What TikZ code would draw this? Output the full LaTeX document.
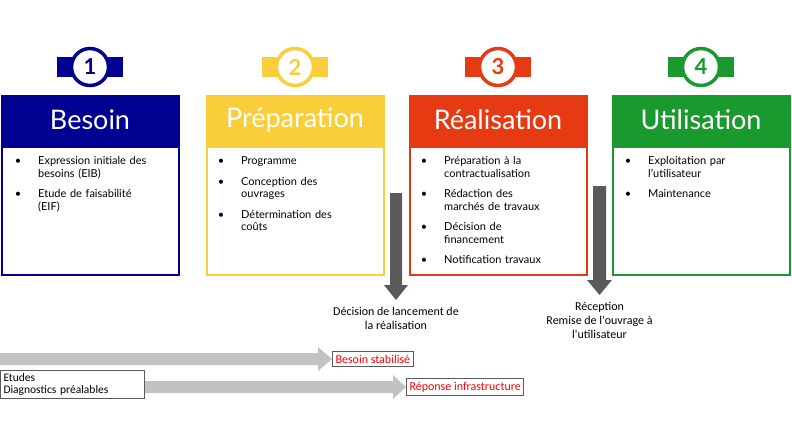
\documentclass[tikz,border=0pt]{standalone}
\usepackage{fontspec}
\setmainfont{Lato}
\newfontfamily\notefont{Carlito}
\usetikzlibrary{positioning}
\definecolor{cbleu}{HTML}{000091}
\definecolor{cjaune}{HTML}{F9CE3A}
\definecolor{crouge}{HTML}{E63B12}
\definecolor{cvert}{HTML}{1A9A2E}
\definecolor{cgris}{HTML}{5A5A5A}
\definecolor{cclair}{HTML}{C2C2C2}
\setlength{\leftmargini}{25pt}
\setlength{\labelsep}{17pt}
\tikzset{
  header/.style={fill=#1, draw=#1, line width=2pt, minimum width=177pt, minimum height=49pt, text=white, font=\fontsize{27}{27}\selectfont, inner sep=0pt},
  body/.style={draw=#1, line width=2pt, fill=white, minimum width=177pt, minimum height=128pt, anchor=north},
  ring/.style={circle, draw=#1, line width=3.5pt, fill=white, minimum size=37pt, text=#1, font=\fontsize{22}{22}\selectfont\bfseries, inner sep=0pt},
  tab/.style={fill=#1, minimum width=66pt, minimum height=20pt, inner sep=0pt},
  items/.style={text width=140pt, align=left, font=\fontsize{11}{12.5}\selectfont\setlength{\itemsep}{0pt}, anchor=north west, inner sep=0pt},
  redbox/.style={draw=cgris, line width=1pt, text=red, font=\notefont\fontsize{12}{13}\selectfont, inner sep=3pt},
  note/.style={align=center, font=\notefont\fontsize{12}{14}\selectfont, inner sep=0pt}
}
\begin{document}
\begin{tikzpicture}[x=1pt,y=-1pt]
\useasboundingbox (0,0) rectangle (792,445);
% phases
\foreach \n/\x/\c/\t in {1/90/cbleu/Besoin, 2/295/cjaune/Préparation, 3/498/crouge/Réalisation, 4/701/cvert/Utilisation}{
  \node[tab=\c] (tab\n) at (\x,67) {};
  \node[ring=\c] (ring\n) at (\x,67) {\n};
  \node[body=\c] (body\n) at (\x,146) {};
  \node[header=\c] (head\n) at (\x,120) {\t};
}
\node[items] (list1) at (13,144) {%
  \begin{itemize}
  \item Expression initiale des besoins (EIB)
  \item Etude de faisabilité\\(EIF)
  \end{itemize}};
\node[items, text width=135pt] (list2) at (216,144) {%
  \begin{itemize}
  \item Programme
  \item Conception des\\ouvrages
  \item Détermination des coûts
  \end{itemize}};
\node[items, text width=135pt] (list3) at (419,144) {%
  \begin{itemize}
  \item Préparation à la contractualisation
  \item Rédaction des\\marchés de travaux
  \item Décision de\\financement
  \item Notification travaux
  \end{itemize}};
\node[items, text width=135pt] (list4) at (623,144) {%
  \begin{itemize}
  \item Exploitation par\\l'utilisateur
  \item Maintenance
  \end{itemize}};
% jalons
\fill[cgris] (390,193) -- (402,193) -- (402,285) -- (408,285) -- (396,300) -- (384,285) -- (390,285) -- cycle;
\fill[cgris] (593,186) -- (606,186) -- (606,280) -- (612,280) -- (599.5,295) -- (587,280) -- (593,280) -- cycle;
\coordinate (tip1) at (396,300);
\coordinate (tip2) at (599.5,295);
\node[note, below=7pt of tip1] (dec) {Décision de lancement de\\la réalisation};
\node[note, below=7pt of tip2] (rec) {Réception\\Remise de l'ouvrage à\\l'utilisateur};
% bas
\node[redbox, anchor=west] (stab) at (332,359) {Besoin stabilisé};
\node[draw=cgris, line width=1pt, anchor=north west, text width=138pt, align=left, font=\notefont\fontsize{11.5}{12.5}\selectfont, inner sep=3pt] (etudes) at (0,370) {Etudes\\Diagnostics préalables};
\node[redbox, anchor=west] (infra) at (406,387) {Réponse infrastructure};
\fill[cclair] (0,353) -- (318,353) -- (318,347) -- (stab.west) -- (318,371) -- (318,365) -- (0,365) -- cycle;
\fill[cclair] (etudes.east |- 0,381) -- (393,381) -- (393,375) -- (infra.west) -- (393,399) -- (393,393) -- (etudes.east |- 0,393) -- cycle;
\end{tikzpicture}
\end{document}
